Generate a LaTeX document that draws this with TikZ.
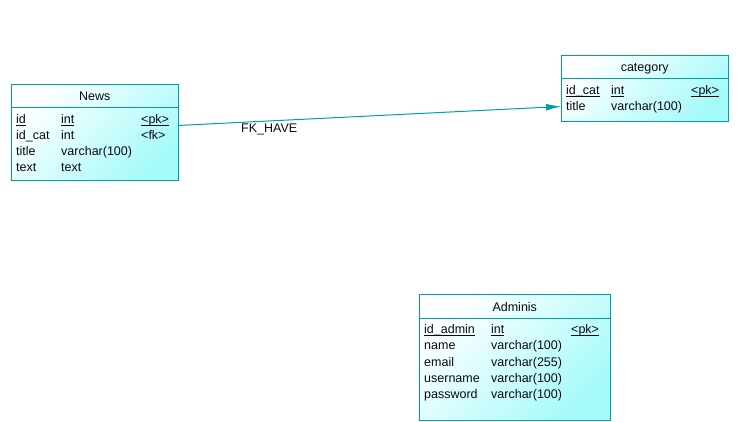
\documentclass[tikz,border=0pt]{standalone}
\usepackage{fontspec}
\setmainfont{Liberation Sans}
\usetikzlibrary{arrows.meta}
\definecolor{edge}{RGB}{0,160,160}
\definecolor{cyanlt}{RGB}{165,250,250}
\definecolor{txt}{RGB}{10,10,20}
\newcommand{\ulx}[1]{\underline{\smash{#1}}}
\tikzset{
  tbl/.style={draw=edge, line width=1pt, anchor=north west, inner sep=0pt,
    top color=white, bottom color=cyanlt, shading angle=45},
  sep/.style={draw=edge, line width=1pt},
  hdr/.style={anchor=base, inner sep=0pt, text=txt, font=\fontsize{12.5}{15}\selectfont},
  cell/.style={anchor=base west, inner sep=0pt, text=txt, font=\fontsize{12.5}{15}\selectfont},
  conn/.style={draw=edge, line width=1pt, -{Latex[length=15pt,width=7pt]}},
}
\begin{document}
\begin{tikzpicture}[x=1pt,y=-1pt]
\useasboundingbox (0,0) rectangle (752,422);
% News
\node[tbl, minimum width=166.5pt, minimum height=96.5pt] (news) at (11,84) {};
\draw[sep] ([yshift=-24pt]news.north west) -- ([yshift=-24pt]news.north east);
\node[hdr] (newsh) at ([yshift=-17pt]news.north) {News};
\node[cell] (n1a) at (16,123.5) {\ulx{id}};
\node[cell] (n1b) at (61,123.5) {\ulx{int}};
\node[cell] (n1c) at (141,123.5) {\ulx{<pk>}};
\node[cell] (n2a) at (16,139.6) {id\_cat};
\node[cell] (n2b) at (61,139.6) {int};
\node[cell] (n2c) at (141,139.6) {<fk>};
\node[cell] (n3a) at (16,155.7) {title};
\node[cell] (n3b) at (61,155.7) {varchar(100)};
\node[cell] (n4a) at (16,171.8) {text};
\node[cell] (n4b) at (61,171.8) {text};
% category
\node[tbl, minimum width=166.5pt, minimum height=66pt] (category) at (561,55) {};
\draw[sep] ([yshift=-24pt]category.north west) -- ([yshift=-24pt]category.north east);
\node[hdr] (cath) at ([yshift=-17pt]category.north) {category};
\node[cell] (c1a) at (566,95) {\ulx{id\_cat}};
\node[cell] (c1b) at (611,95) {\ulx{int}};
\node[cell] (c1c) at (691,95) {\ulx{<pk>}};
\node[cell] (c2a) at (566,111) {title};
\node[cell] (c2b) at (611,111) {varchar(100)};
% Adminis
\node[tbl, minimum width=190.5pt, minimum height=126pt] (adminis) at (419,294) {};
\draw[sep] ([yshift=-24pt]adminis.north west) -- ([yshift=-24pt]adminis.north east);
\node[hdr] (admh) at ([yshift=-17pt]adminis.north) {Adminis};
\node[cell] (a1a) at (424,333.8) {\ulx{id\_admin}};
\node[cell] (a1b) at (491,333.8) {\ulx{int}};
\node[cell] (a1c) at (571,333.8) {\ulx{<pk>}};
\node[cell] (a2a) at (424,349.9) {name};
\node[cell] (a2b) at (491,349.9) {varchar(100)};
\node[cell] (a3a) at (424,366) {email};
\node[cell] (a3b) at (491,366) {varchar(255)};
\node[cell] (a4a) at (424,382.1) {username};
\node[cell] (a4b) at (491,382.1) {varchar(100)};
\node[cell] (a5a) at (424,398.2) {password};
\node[cell] (a5b) at (491,398.2) {varchar(100)};
% connector
\draw[conn] ([yshift=7.3pt]news.east) -- ([yshift=-18pt]category.west);
\node[cell] (fk) at (241,133) {FK\_HAVE};
\end{tikzpicture}
\end{document}
